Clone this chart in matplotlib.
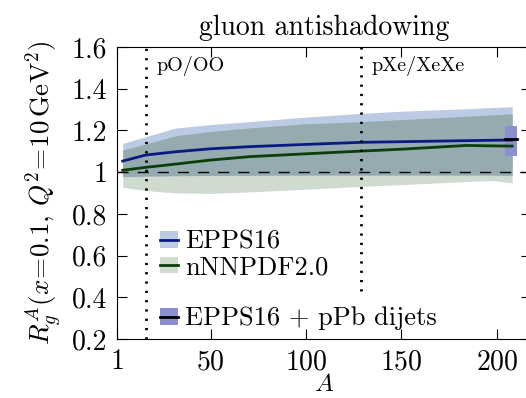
import numpy as np
import matplotlib
matplotlib.use('Agg')
import matplotlib.pyplot as plt
from matplotlib.patches import Patch
from matplotlib.lines import Line2D
from matplotlib.legend_handler import HandlerTuple
from matplotlib.ticker import FormatStrFormatter

plt.rcParams['font.family'] = 'serif'
plt.rcParams['font.serif'] = ['cmr10', 'DejaVu Serif']
plt.rcParams['mathtext.fontset'] = 'cm'
plt.rcParams['axes.formatter.use_mathtext'] = True

# =============================================================================
# Data
# =============================================================================
A_grid = [4, 16, 32, 50, 70, 100, 129, 150, 184, 198, 208]

epps_mid = [1.053, 1.082, 1.098, 1.112, 1.122, 1.133, 1.143, 1.146, 1.151, 1.153, 1.154]
epps_hi  = [1.138, 1.170, 1.212, 1.228, 1.242, 1.264, 1.282, 1.292, 1.304, 1.310, 1.314]
epps_lo  = [0.978, 0.981, 0.983, 0.984, 0.985, 0.986, 0.986, 0.986, 0.986, 0.986, 0.985]

nnn_mid = [1.009, 1.023, 1.039, 1.058, 1.074, 1.088, 1.101, 1.110, 1.128, 1.126, 1.125]
nnn_hi  = [1.106, 1.135, 1.175, 1.195, 1.212, 1.232, 1.242, 1.252, 1.268, 1.275, 1.280]
nnn_lo  = [0.927, 0.912, 0.900, 0.898, 0.905, 0.918, 0.932, 0.940, 0.955, 0.960, 0.949]

# EPPS16 + pPb dijets at Pb
dijet_A   = 208
dijet_mid = 1.157
dijet_lo  = 1.079
dijet_hi  = 1.221

systems   = [16, 129]
sys_names = ['pO/OO', 'pXe/XeXe']
sys_ymin  = [0.2, 0.43]

# =============================================================================
# Style
# =============================================================================
c_epps_band = '#bccbe3'
c_nnn_band  = '#cfdbcf'
c_overlap   = '#96abb0'
c_epps_line = '#0a1a80'
c_nnn_line  = '#0b3d0b'
c_dijet     = '#8a8fd0'

A = np.array(A_grid)
fig = plt.figure(figsize=(5.26, 3.98), dpi=100)
ax = fig.add_axes([0.2224, 0.1482, 1.01 - 0.2224, 0.8819 - 0.1482])

ax.fill_between(A, nnn_lo, nnn_hi, color=c_nnn_band, lw=0)
ax.fill_between(A, epps_lo, epps_hi, color=c_epps_band, lw=0)
ax.fill_between(A, np.maximum(epps_lo, nnn_lo), np.minimum(epps_hi, nnn_hi),
                color=c_overlap, lw=0)

ax.plot(A, epps_mid, color=c_epps_line, lw=2)
ax.plot(A, nnn_mid, color=c_nnn_line, lw=2)

ax.fill_between([dijet_A - 3.5, dijet_A + 2.5], dijet_lo, dijet_hi,
                color=c_dijet, lw=0)
ax.plot([dijet_A - 3.5, dijet_A + 2.5], [dijet_mid, dijet_mid],
        color='black', lw=2)

ax.axhline(1, color='black', lw=1, ls=(0, (8, 6.5)))
for xs, name, y0 in zip(systems, sys_names, sys_ymin):
    ax.plot([xs, xs], [y0, 1.6], color='black', lw=2, ls=(0, (0.8, 2.55)))
    ax.text(xs + 5.5, 1.51, name, fontsize=14.5, va='center', ha='left')

ax.set_xlim(1, 218)
ax.set_ylim(0.2, 1.6)
ax.set_xticks([1, 50, 100, 150, 200])
ax.set_yticks([0.2, 0.4, 0.6, 0.8, 1.0, 1.2, 1.4, 1.6])
ax.yaxis.set_major_formatter(FormatStrFormatter('%g'))
ax.tick_params(direction='in', top=True, right=True, length=7, width=0.8,
               labelsize=20, pad=7)
ax.set_xlabel(r'$A$', fontsize=18, labelpad=-1)
ax.set_ylabel(r'$R_g^A(x\!=\!0.1,\,Q^2\!=\!10\,\mathrm{GeV}^2)$', fontsize=19.5,
              labelpad=6)
ax.set_title('gluon antishadowing', fontsize=20, pad=9)

handles = [
    (Patch(color=c_epps_band, lw=0), Line2D([], [], color=c_epps_line, lw=2)),
    (Patch(color=c_nnn_band, lw=0), Line2D([], [], color=c_nnn_line, lw=2)),
    Patch(alpha=0),
    (Patch(color=c_dijet, lw=0), Line2D([], [], color='black', lw=2)),
]
labels = ['EPPS16', 'nNNPDF2.0', '', 'EPPS16 + pPb dijets']
ax.legend(handles, labels, handler_map={tuple: HandlerTuple(ndivide=1)},
          loc='upper left', bbox_to_anchor=(160 / 526, 1 - 230 / 398),
          bbox_transform=fig.transFigure, frameon=False, fontsize=19,
          handlelength=0.7, handleheight=0.6, handletextpad=0.25,
          borderpad=0, borderaxespad=0, labelspacing=0.07)

fig.savefig('out.png', dpi=100)
